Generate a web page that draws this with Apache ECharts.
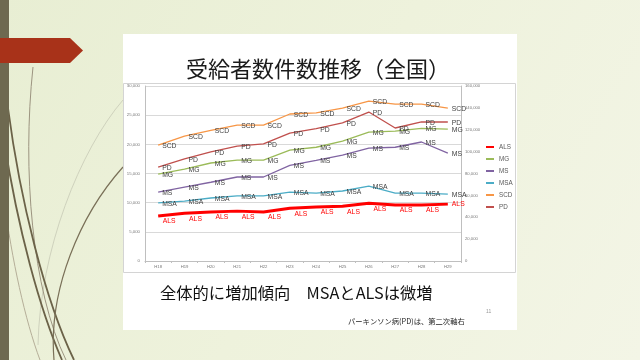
<!DOCTYPE html>
<html><head><meta charset="utf-8">
<script src="https://cdn.jsdelivr.net/npm/echarts@6/dist/echarts.min.js"></script>
<style>html,body{margin:0;padding:0;background:#fff;}#c{width:640px;height:360px;}</style>
</head><body><div id="c"></div>
<script>
// ---- data ----
const categories = ['H18','H19','H20','H21','H22','H23','H24','H25','H26','H27','H28','H29'];
const ALS = [7700, 8200, 8400, 8550, 8400, 9050, 9250, 9400, 9900, 9600, 9600, 9750];
const MG  = [14900, 15750, 16800, 17300, 17300, 19000, 19500, 20550, 22100, 22250, 22750, 22600];
const MS  = [11800, 12650, 13500, 14400, 14400, 16400, 17250, 18150, 19350, 19500, 20400, 18500];
const MSA = [9950, 10250, 10800, 11150, 11150, 11800, 11650, 12000, 12850, 11650, 11650, 11450];
const SCD = [19850, 21400, 22400, 23300, 23300, 25200, 25400, 26200, 27400, 26900, 26900, 26200];
const PD  = [85900, 93300, 99700, 105100, 107000, 117000, 121000, 126200, 136200, 121600, 127100, 127100]; // secondary (right) axis
const leftAxisRange = [0, 30000, 5000];
const rightAxisRange = [0, 160000, 20000];
const seriesNames = ['ALS','MG','MS','MSA','SCD','PD'];
const titleText = '受給者数件数推移（全国）';
const noteText = '全体的に増加傾向　MSAとALSは微増';
const footText = 'パーキンソン病(PD)は、第二次軸右';
const pageNo = '11';

// ---- styles ----
const colors = {ALS:'#FF0000', MG:'#9BBB59', MS:'#8064A2', MSA:'#4BACC6', SCD:'#F79646', PD:'#C0504D'};
const labelFont = 'Liberation Sans';
const fmt = v => v.toLocaleString('en-US');

function makeSeries(name, values, axisIndex) {
  const isALS = name === 'ALS';
  const data = values.map((v, i) => {
    if (isALS && i === values.length - 1) {
      return {value: v, label: {position: 'right', distance: 4, offset: [0, 0]}};
    }
    return v;
  });
  return {
    name, type: 'line', yAxisIndex: axisIndex, data,
    symbol: 'circle', symbolSize: 0.01, showSymbol: true,
    lineStyle: {color: colors[name], width: isALS ? 3 : 1.3},
    itemStyle: {color: colors[name]},
    emphasis: {disabled: true},
    animation: false,
    label: {
      show: true,
      formatter: () => name,
      position: isALS ? 'bottom' : 'right',
      distance: isALS ? 2 : 4,
      offset: isALS ? [11, 0] : [0, 1],
      color: isALS ? '#FF0000' : '#404040',
      fontSize: 6.8, fontFamily: labelFont
    }
  };
}

const chart = echarts.init(document.getElementById('c'), null, {renderer: 'canvas'});
const bz = (x1,y1,cpx1,cpy1,cpx2,cpy2,x2,y2,stroke,w) => ({
  type:'bezierCurve', z:-10, silent:true,
  shape:{x1,y1,cpx1,cpy1,cpx2,cpy2,x2,y2},
  style:{stroke, lineWidth:w, fill:null}
});
chart.setOption({
  animation: false,
  backgroundColor: {type:'linear', x:0, y:0, x2:1, y2:1,
    colorStops:[{offset:0,color:'#e8eed3'},{offset:0.5,color:'#eef2dc'},{offset:1,color:'#f3f5e6'}]},
  grid: {left:145, right:179, top:86, bottom:99, containLabel:false},
  legend: {
    orient:'vertical', left:481, top:136,
    data: seriesNames, icon:'rect', itemWidth:8, itemHeight:2, itemGap:0,
    textStyle:{fontSize:6.3, fontFamily:labelFont, color:'#595959', lineHeight:12},
    selectedMode:false
  },
  xAxis: {
    type:'category', data:categories, boundaryGap:true,
    axisLine:{lineStyle:{color:'#bfbfbf', width:1}},
    axisTick:{show:true, length:2, lineStyle:{color:'#bfbfbf'}},
    axisLabel:{fontSize:4.2, color:'#777', margin:4, fontFamily:labelFont}
  },
  yAxis: [
    {type:'value', min:leftAxisRange[0], max:leftAxisRange[1], interval:leftAxisRange[2],
     axisLine:{show:true, lineStyle:{color:'#bfbfbf'}}, axisTick:{show:false},
     splitLine:{lineStyle:{color:'#d9d9d9', width:1}},
     axisLabel:{fontSize:4.3, color:'#777', margin:5, formatter:fmt, fontFamily:labelFont}},
    {type:'value', min:rightAxisRange[0], max:rightAxisRange[1], interval:rightAxisRange[2],
     position:'right',
     axisLine:{show:true, lineStyle:{color:'#bfbfbf'}}, axisTick:{show:false},
     splitLine:{show:false},
     axisLabel:{fontSize:4.2, color:'#777', margin:4, formatter:fmt, fontFamily:labelFont}}
  ],
  series: [
    makeSeries('ALS', ALS, 0),
    makeSeries('MG', MG, 0),
    makeSeries('MS', MS, 0),
    makeSeries('MSA', MSA, 0),
    makeSeries('SCD', SCD, 0),
    makeSeries('PD', PD, 1)
  ],
  graphic: [
    // decorative curves
    bz(123,100, 80,150, 40,250, 38,345, '#cfd2bd', 1),
    bz(33,67, 22,170, 32,290, 66,360, '#9c9480', 1),
    bz(8,108, 20,200, 45,300, 74,360, '#6b6248', 1.8),
    bz(4,140, 18,230, 40,310, 62,360, '#6b6248', 1.8),
    bz(123,167, 80,215, 48,290, 54,360, '#7a7058', 1.2),
    bz(4,200, 12,260, 25,320, 40,360, '#b5ae98', 1),
    // left stripe
    {type:'rect', z:-9, silent:true, shape:{x:0,y:0,width:9,height:360}, style:{fill:'#6e6950'}},
    // red arrow
    {type:'polygon', z:-8, silent:true, shape:{points:[[0,38],[70,38],[83,50.5],[70,63],[0,63]]}, style:{fill:'#a83219'}},
    // white content box
    {type:'rect', z:-7, silent:true, shape:{x:123,y:34,width:394,height:296}, style:{fill:'#ffffff'}},
    // chart frame
    {type:'rect', z:-6, silent:true, shape:{x:123.5,y:83.5,width:392,height:189}, style:{fill:null, stroke:'#d4d4d4', lineWidth:1}},
    // texts
    {type:'text', z:10, silent:true, x:318, y:69,
     style:{text:titleText, font:'22px "Noto Sans CJK JP"', fill:'#1a1a1a', align:'center', verticalAlign:'middle'}},
    {type:'text', z:10, silent:true, x:160, y:293,
     style:{text:noteText, font:'16.3px "Noto Sans CJK JP"', fill:'#111', align:'left', verticalAlign:'middle'}},
    {type:'text', z:10, silent:true, x:348, y:321,
     style:{text:footText, font:'7.3px "Noto Sans CJK JP"', fill:'#222', align:'left', verticalAlign:'middle'}},
    {type:'text', z:10, silent:true, x:486, y:312,
     style:{text:pageNo, font:'5px "Liberation Sans"', fill:'#999', align:'left', verticalAlign:'middle'}}
  ]
});
</script>
</body></html>
